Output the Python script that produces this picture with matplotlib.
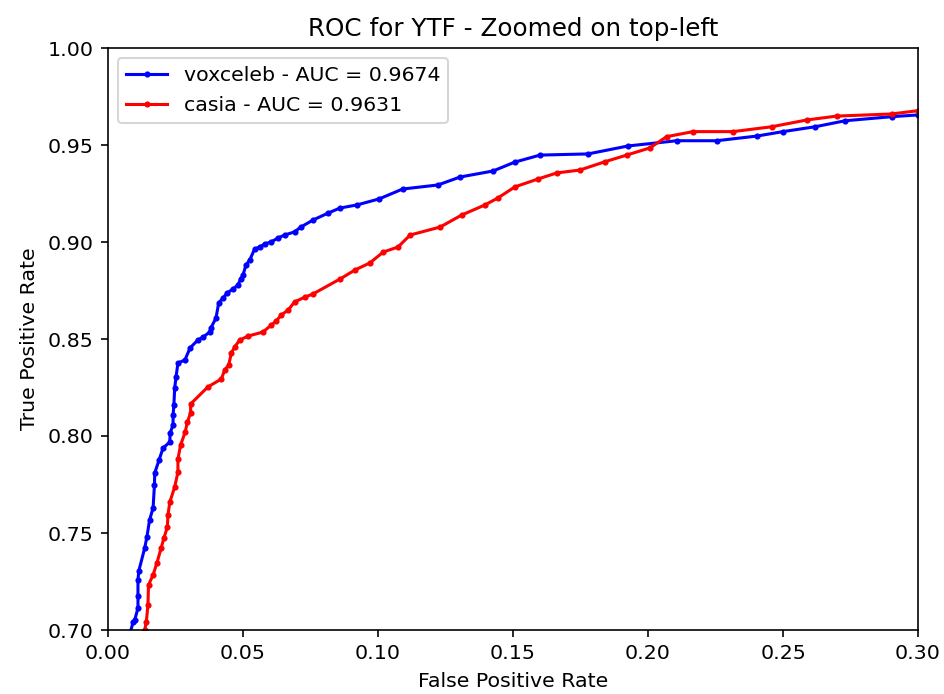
import matplotlib
matplotlib.use("Agg")
import matplotlib.pyplot as plt

vox_fpr = [0.0075, 0.0093, 0.0099, 0.0111, 0.0111, 0.0111, 0.0114, 0.0136, 0.0144, 0.0154, 0.0167,
           0.0172, 0.0173, 0.0189, 0.0204, 0.0229, 0.0230, 0.0241, 0.0241, 0.0244, 0.0247, 0.0252,
           0.0259, 0.0285, 0.0304, 0.0333, 0.0352, 0.0377, 0.0381, 0.0400, 0.0410, 0.0426, 0.0441,
           0.0463, 0.0481, 0.0491, 0.0500, 0.0511, 0.0525, 0.0543, 0.0562, 0.0580, 0.0604, 0.0630,
           0.0654, 0.0691, 0.0714, 0.0759, 0.0815, 0.0859, 0.0922, 0.1004, 0.1091, 0.1222, 0.1304,
           0.1426, 0.1507, 0.1600, 0.1778, 0.1926, 0.2106, 0.2254, 0.2403, 0.2500, 0.2619, 0.2730,
           0.2903, 0.3000, 0.3100]
vox_tpr = [0.6950, 0.7041, 0.7052, 0.7113, 0.7175, 0.7258, 0.7304, 0.7423, 0.7479, 0.7567, 0.7629,
           0.7747, 0.7809, 0.7876, 0.7938, 0.7969, 0.8015, 0.8057, 0.8108, 0.8160, 0.8247, 0.8304,
           0.8376, 0.8392, 0.8454, 0.8495, 0.8510, 0.8536, 0.8557, 0.8608, 0.8686, 0.8711, 0.8737,
           0.8758, 0.8778, 0.8809, 0.8830, 0.8881, 0.8907, 0.8964, 0.8974, 0.8990, 0.9000, 0.9021,
           0.9036, 0.9052, 0.9077, 0.9113, 0.9149, 0.9175, 0.9191, 0.9222, 0.9273, 0.9294, 0.9335,
           0.9366, 0.9412, 0.9448, 0.9454, 0.9495, 0.9522, 0.9522, 0.9546, 0.9569, 0.9594, 0.9625,
           0.9646, 0.9655, 0.9660]

casia_fpr = [0.0130, 0.0136, 0.0142, 0.0148, 0.0150, 0.0167, 0.0181, 0.0197, 0.0207, 0.0220, 0.0222,
             0.0229, 0.0247, 0.0259, 0.0259, 0.0269, 0.0286, 0.0294, 0.0306, 0.0306, 0.0370, 0.0420,
             0.0432, 0.0447, 0.0457, 0.0469, 0.0488, 0.0519, 0.0574, 0.0605, 0.0623, 0.0642, 0.0667,
             0.0691, 0.0729, 0.0759, 0.0859, 0.0915, 0.0970, 0.1019, 0.1074, 0.1119, 0.1230, 0.1310,
             0.1396, 0.1444, 0.1507, 0.1593, 0.1662, 0.1748, 0.1841, 0.1921, 0.2007, 0.2069, 0.2167,
             0.2315, 0.2458, 0.2588, 0.2699, 0.2903, 0.3000, 0.3100]
casia_tpr = [0.6950, 0.7000, 0.7043, 0.7129, 0.7232, 0.7284, 0.7345, 0.7423, 0.7474, 0.7531, 0.7593,
             0.7660, 0.7737, 0.7814, 0.7881, 0.7954, 0.8021, 0.8072, 0.8119, 0.8165, 0.8253, 0.8294,
             0.8340, 0.8366, 0.8428, 0.8459, 0.8495, 0.8515, 0.8536, 0.8572, 0.8593, 0.8624, 0.8649,
             0.8691, 0.8716, 0.8732, 0.8809, 0.8856, 0.8892, 0.8948, 0.8974, 0.9036, 0.9077, 0.9139,
             0.9191, 0.9227, 0.9284, 0.9325, 0.9356, 0.9371, 0.9414, 0.9448, 0.9485, 0.9543, 0.9569,
             0.9569, 0.9594, 0.9629, 0.9649, 0.9660, 0.9677, 0.9690]

labels = ["voxceleb - AUC = 0.9674", "casia - AUC = 0.9631"]

dpi = 147.5
fig = plt.figure(figsize=(944 / dpi, 694 / dpi), dpi=dpi)
ax = fig.add_axes([108 / 944, 1 - 630 / 694, (918 - 108) / 944, (630 - 48) / 694])

ax.plot(vox_fpr, vox_tpr, color="blue", marker=".", markersize=4, linewidth=1.5, label=labels[0])
ax.plot(casia_fpr, casia_tpr, color="red", marker=".", markersize=4, linewidth=1.5, label=labels[1])

ax.set_xlim(0.0, 0.30)
ax.set_ylim(0.70, 1.00)
ax.set_xticks([0.00, 0.05, 0.10, 0.15, 0.20, 0.25, 0.30])
ax.set_yticks([0.70, 0.75, 0.80, 0.85, 0.90, 0.95, 1.00])
ax.set_xlabel("False Positive Rate")
ax.set_ylabel("True Positive Rate")
ax.set_title("ROC for YTF - Zoomed on top-left")
ax.legend(loc="upper left")

fig.savefig("out.png", dpi=dpi)
